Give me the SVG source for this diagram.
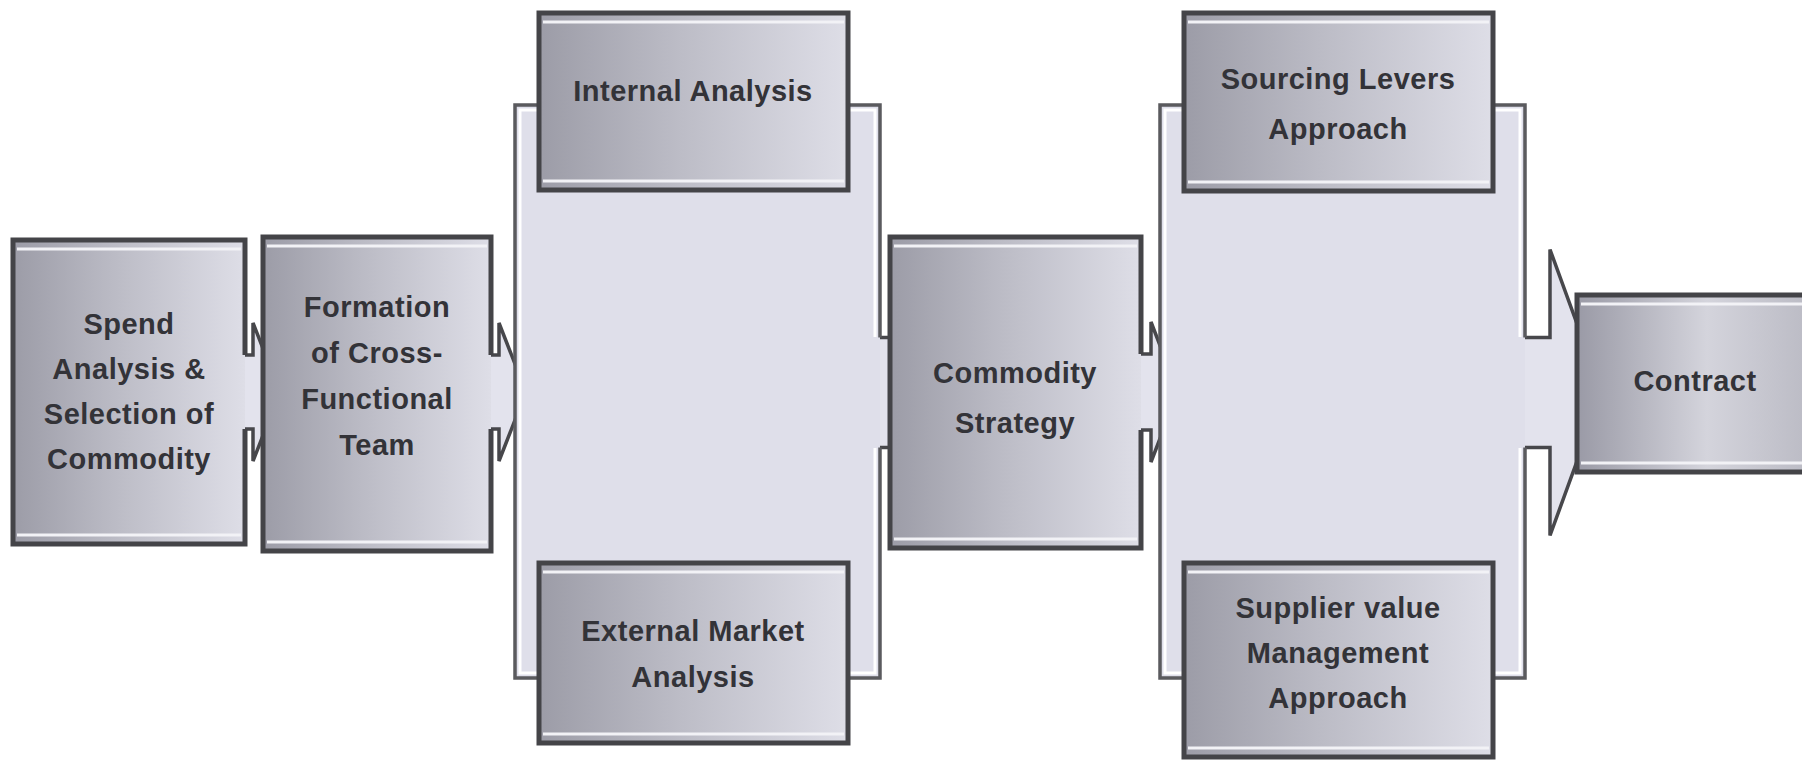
<svg xmlns="http://www.w3.org/2000/svg" width="1802" height="760" viewBox="0 0 1802 760">
<defs>
<linearGradient id="boxg" x1="0" y1="0" x2="1" y2="0">
<stop offset="0" stop-color="#9c9ca7"/>
<stop offset="0.45" stop-color="#bcbcc6"/>
<stop offset="1" stop-color="#dedee7"/>
</linearGradient>
<linearGradient id="contractg" x1="0" y1="0" x2="1" y2="0">
<stop offset="0" stop-color="#9a9aa6"/>
<stop offset="0.5" stop-color="#d4d4dc"/>
<stop offset="1" stop-color="#b4b4be"/>
</linearGradient>
</defs>
<style>
.box{fill:url(#boxg)}
.border{fill:none;stroke:#444448;stroke-width:5;stroke-linejoin:miter}
.hl{fill:none;stroke:#f2f2f6;stroke-width:3}
.grp{fill:#dfdfea}
.grpline{fill:none;stroke:#5a5a5e;stroke-width:3.5;stroke-linejoin:miter}
.grphl{fill:none;stroke:#ffffff;stroke-width:3}
.arrow{fill:#e3e3ed;stroke:#47474b;stroke-width:3.5;stroke-linejoin:miter}
.lbl{font-family:"Liberation Sans",Arial,sans-serif;font-size:29px;font-weight:bold;fill:#333338;text-anchor:middle;letter-spacing:0.5px}
</style>
<rect x="0" y="0" width="1802" height="760" fill="#ffffff"/>

<g id="connectors">
<polygon class="arrow" points="235,355 253,355 253,323 280,392 253,461 253,429 235,429"/>
<polygon class="arrow" points="481,355 499,355 499,323 526,392 499,461 499,429 481,429"/>
<polygon class="arrow" points="870,337.5 905,337.5 905,249.5 957,392.5 905,535.5 905,447.5 870,447.5"/>
<polygon class="arrow" points="1131,354 1151,354 1151,322 1178,392 1151,462 1151,430 1131,430"/>
<polygon class="arrow" points="1515,337.5 1550,337.5 1550,249.5 1602,392.5 1550,535.5 1550,447.5 1515,447.5"/>
</g>

<g id="node-spend">
<rect class="box" x="13" y="240" width="232" height="304"/>
<path class="hl" d="M17 249 H241 M17 535 H241"/>
<path class="border" d="M245 355 V240 H13 V544 H245 V429"/>
<text class="lbl" x="129" y="334">Spend</text>
<text class="lbl" x="129" y="379">Analysis &amp;</text>
<text class="lbl" x="129" y="424">Selection of</text>
<text class="lbl" x="129" y="469">Commodity</text>
</g>

<g id="node-formation">
<rect class="box" x="263" y="237" width="228" height="314"/>
<path class="hl" d="M267 246 H487 M267 542 H487"/>
<path class="border" d="M491 355 V237 H263 V551 H491 V429"/>
<text class="lbl" x="377" y="317">Formation</text>
<text class="lbl" x="377" y="363">of Cross-</text>
<text class="lbl" x="377" y="409">Functional</text>
<text class="lbl" x="377" y="455">Team</text>
</g>

<g id="node-analysis-group">
<rect class="grp" x="515" y="105" width="365" height="573"/>
<path class="grphl" d="M875 337 V110 H520 V673 H875 V448"/>
<path class="grpline" d="M880 337.5 V105 H515 V678 H880 V447.5"/>
</g>

<g id="node-internal">
<rect class="box" x="539" y="13" width="309" height="177"/>
<path class="hl" d="M543 22 H844 M543 181 H844"/>
<rect class="border" x="539" y="13" width="309" height="177"/>
<text class="lbl" x="693" y="101">Internal Analysis</text>
</g>

<g id="node-external">
<rect class="box" x="539" y="563" width="309" height="180"/>
<path class="hl" d="M543 572 H844 M543 734 H844"/>
<rect class="border" x="539" y="563" width="309" height="180"/>
<text class="lbl" x="693" y="641">External Market</text>
<text class="lbl" x="693" y="687">Analysis</text>
</g>

<g id="node-commodity">
<rect class="box" x="890" y="237" width="251" height="311"/>
<path class="hl" d="M894 246 H1137 M894 539 H1137"/>
<path class="border" d="M1141 354 V237 H890 V548 H1141 V430"/>
<text class="lbl" x="1015" y="383">Commodity</text>
<text class="lbl" x="1015" y="433">Strategy</text>
</g>

<g id="node-approach-group">
<rect class="grp" x="1160" y="105" width="365" height="573"/>
<path class="grphl" d="M1520 337 V110 H1165 V673 H1520 V448"/>
<path class="grpline" d="M1525 337.5 V105 H1160 V678 H1525 V447.5"/>
</g>

<g id="node-sourcing">
<rect class="box" x="1184" y="13" width="309" height="178"/>
<path class="hl" d="M1188 22 H1489 M1188 182 H1489"/>
<rect class="border" x="1184" y="13" width="309" height="178"/>
<text class="lbl" x="1338" y="89">Sourcing Levers</text>
<text class="lbl" x="1338" y="139">Approach</text>
</g>

<g id="node-supplier">
<rect class="box" x="1184" y="563" width="309" height="194"/>
<path class="hl" d="M1188 572 H1489 M1188 748 H1489"/>
<rect class="border" x="1184" y="563" width="309" height="194"/>
<text class="lbl" x="1338" y="618">Supplier value</text>
<text class="lbl" x="1338" y="663">Management</text>
<text class="lbl" x="1338" y="708">Approach</text>
</g>

<g id="node-contract">
<rect x="1577" y="295" width="260" height="177" fill="url(#contractg)"/>
<path class="hl" d="M1581 304 H1802 M1581 463 H1802"/>
<rect class="border" x="1577" y="295" width="260" height="177"/>
<text class="lbl" x="1695" y="391">Contract</text>
</g>
</svg>
